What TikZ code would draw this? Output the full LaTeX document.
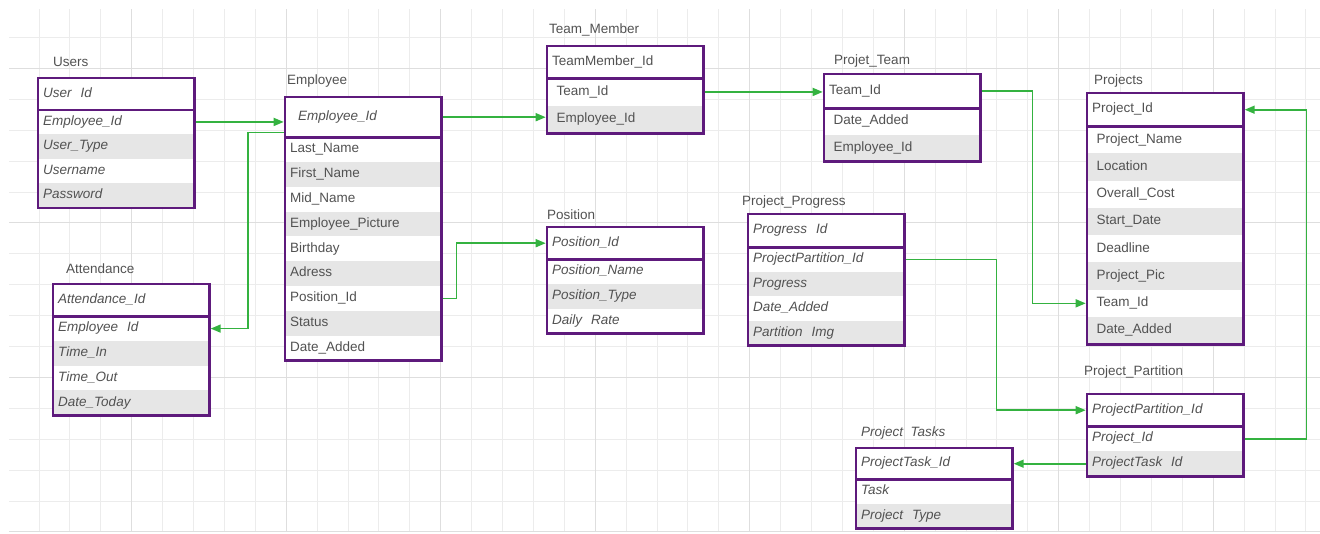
\documentclass[tikz,border=0pt]{standalone}
\usepackage{fontspec}
\setmainfont{Liberation Sans}
\usetikzlibrary{arrows.meta,matrix,positioning}

\definecolor{gridgray}{RGB}{236,236,236}
\definecolor{gridmajor}{RGB}{222,222,222}
\definecolor{rowgray}{RGB}{230,230,230}
\definecolor{boxpurple}{RGB}{94,26,124}
\definecolor{linkgreen}{RGB}{52,178,64}
\definecolor{txtgray}{RGB}{82,82,82}

\newcommand{\fsz}{\fontsize{13.5}{16}\selectfont}

\tikzset{
  cell/.style={text width=146pt, inner xsep=5pt, inner ysep=0pt, align=left,
    text height=9.6pt, text depth=3.2pt, text=txtgray, font=\fsz},
  tbl/.style={matrix of nodes, anchor=north west, inner sep=0pt, row sep=0pt,
    nodes={cell, minimum height=#1},
    every odd row/.style={nodes={fill=rowgray}},
    every even row/.style={nodes={fill=white}}},
  itab/.style={nodes={font=\fsz\itshape}},
  indent/.style={nodes={text width=137pt, inner xsep=9.5pt}},
  hdr/.style={fill=white, minimum height=#1, text width=146pt, inner xsep=5pt},
  hdr/.default=32pt,
  box/.style={draw=boxpurple, line width=2.6pt},
  ttl/.style={anchor=west, inner sep=0pt, text=txtgray, font=\fsz},
  link/.style={draw=linkgreen, line width=1.6pt, shorten <=1.3pt, shorten >=1.3pt,
    -{Triangle[length=10pt,width=8pt]}},
  gridline/.style={draw=gridgray, line width=1pt}
}

\begin{document}
\begin{tikzpicture}[x=1pt,y=-1pt]
\useasboundingbox (0,0) rectangle (1320,533);

% background grid
\foreach \k in {0,...,41}
  \draw[gridline] ({39+30.9*\k},9) -- ++(0,523);
\foreach \k in {0,...,16}
  \draw[gridline] (9,{37.5+30.9*\k}) -- (1320,{37.5+30.9*\k});
\foreach \k in {3,8,...,38}
  \draw[gridline,draw=gridmajor] ({39+30.9*\k},9) -- ++(0,523);
\foreach \k in {1,6,11,16}
  \draw[gridline,draw=gridmajor] (9,{37.5+30.9*\k}) -- (1320,{37.5+30.9*\k});

% tables
\matrix (users) [tbl=24.5pt, itab] at (38,78) {
  |[hdr=31.5pt]| User~~Id \\
  Employee\_Id \\
  User\_Type \\
  Username \\
  Password \\
};
\matrix (emp) [tbl=24.8pt] at (285,97) {
  |[hdr=40pt, font=\fsz\itshape, text width=130pt, inner xsep=13pt]| Employee\_Id \\
  Last\_Name \\
  First\_Name \\
  Mid\_Name \\
  Employee\_Picture \\
  Birthday \\
  Adress \\
  Position\_Id \\
  Status \\
  Date\_Added \\
};
\matrix (att) [tbl=24.75pt, itab] at (53,284) {
  |[hdr]| Attendance\_Id \\
  Employee~~Id \\
  Time\_In \\
  Time\_Out \\
  Date\_Today \\
};
\matrix (tm) [tbl=27.5pt, indent] at (547,46) {
  |[hdr]| TeamMember\_Id \\
  Team\_Id \\
  Employee\_Id \\
};
\matrix (pt) [tbl=26.5pt, indent] at (824,74) {
  |[hdr=34pt]| Team\_Id \\
  Date\_Added \\
  Employee\_Id \\
};
\matrix (proj) [tbl=27.25pt, indent] at (1087,93) {
  |[hdr=33pt]| Project\_Id \\
  Project\_Name \\
  Location \\
  Overall\_Cost \\
  Start\_Date \\
  Deadline \\
  Project\_Pic \\
  Team\_Id \\
  Date\_Added \\
};
\matrix (pos) [tbl=24.7pt, itab] at (547,227) {
  |[hdr]| Position\_Id \\
  Position\_Name \\
  Position\_Type \\
  Daily~~Rate \\
};
\matrix (prog) [tbl=24.5pt, itab] at (748,214) {
  |[hdr=33pt]| Progress~~Id \\
  ProjectPartition\_Id \\
  Progress \\
  Date\_Added \\
  Partition~~Img \\
};
\matrix (part) [tbl=25pt, itab] at (1087,394) {
  |[hdr]| ProjectPartition\_Id \\
  Project\_Id \\
  ProjectTask~~Id \\
};
\matrix (tasks) [tbl=24.5pt, itab] at (856,448) {
  |[hdr=31pt]| ProjectTask\_Id \\
  Task \\
  Project~~Type \\
};

\foreach \t in {users,emp,att,tm,pt,proj,pos,prog,part,tasks}{
  \draw[box] (\t-1-1.north west) rectangle (\t-1-1.south east);
  \draw[box] (\t-1-1.south west) rectangle (\t.south east);
}

% titles
\node[ttl] (users-t) at (53,62) {Users};
\node[ttl] (emp-t) at (287,81) {Employee};
\node[ttl] (att-t) at (66,269) {Attendance};
\node[ttl] (tm-t) at (549,30) {Team\_Member};
\node[ttl] (pt-t) at (834,61) {Projet\_Team};
\node[ttl] (proj-t) at (1094,81) {Projects};
\node[ttl] (pos-t) at (547,215) {Position};
\node[ttl] (prog-t) at (742,202) {Project\_Progress};
\node[ttl] (part-t) at (1084,372) {Project\_Partition};
\node[ttl, font=\fsz\itshape] (tasks-t) at (861,433) {Project~~Tasks};

% relations
\draw[link] (users-2-1.east) -- (users-2-1.east -| emp-1-1.west);
\draw[link] ([yshift=5pt]emp-1-1.south west) -- ++(-37,0) |- (att-2-1.east);
\draw[link] (emp-1-1.east) -- (emp-1-1.east -| tm-3-1.west);
\draw[link] (emp-8-1.east) -- ++(15,0) |- (pos-1-1.west);
\draw[link] (tm-2-1.east) -- (tm-2-1.east -| pt-1-1.west);
\draw[link] (pt-1-1.east) -- ++(52,0) |- (proj-8-1.west);
\draw[link] (prog-2-1.east) -- ++(92,0) |- (part-1-1.west);
\draw[link] (part-2-1.east) -- ++(63,0) |- (proj-1-1.east);
\draw[link] (part-3-1.west) -- (part-3-1.west -| tasks-1-1.east);
\end{tikzpicture}
\end{document}
